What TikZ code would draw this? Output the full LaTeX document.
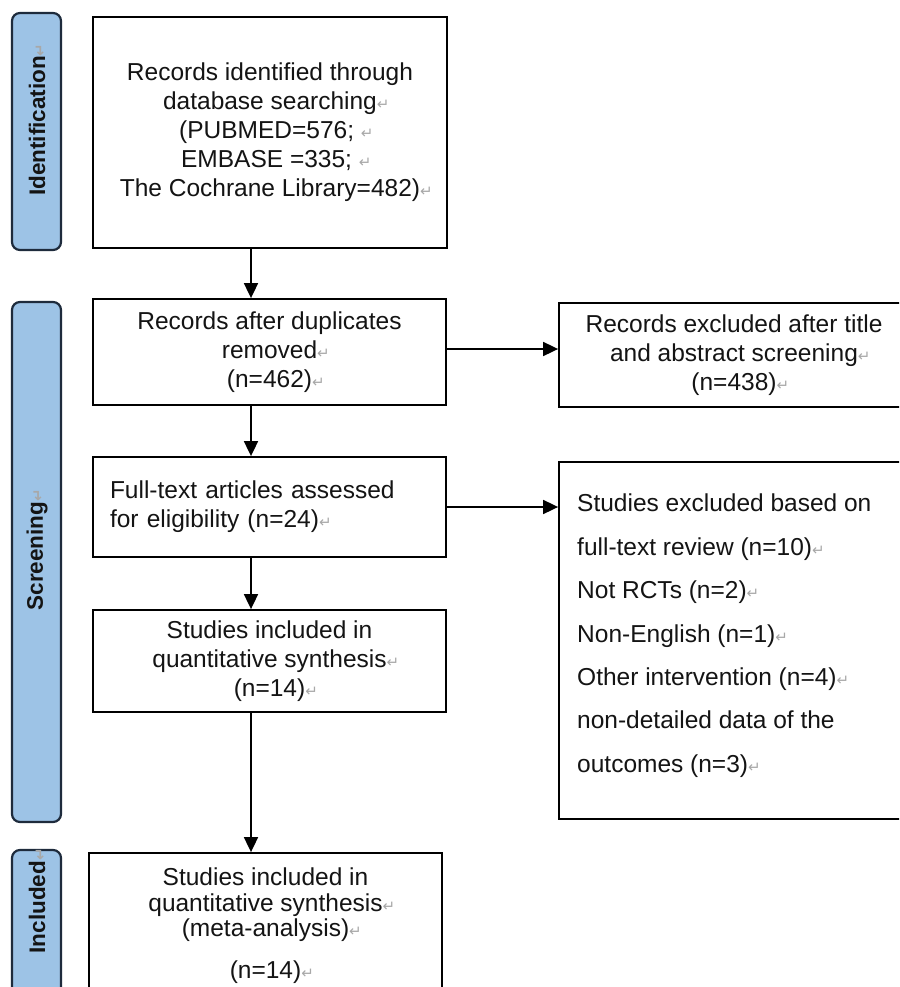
\documentclass[tikz,border=0pt]{standalone}
\usepackage{fontspec}
\setmainfont{Liberation Sans}
\newfontfamily\dvfont{DejaVu Sans}
\usetikzlibrary{arrows.meta}
\definecolor{barfill}{HTML}{9DC3E6}
\definecolor{bardraw}{HTML}{1E2B3C}
\definecolor{retgray}{HTML}{A8A8A8}
\definecolor{inkc}{HTML}{141414}
\newcommand\retmk{\rlap{\textcolor{retgray}{\dvfont\fontsize{15}{15}\selectfont ↵}}}
\tikzset{
  boxnode/.style={draw=black, line width=1.8pt, inner sep=0pt, fill=white,
    text=inkc, font=\fontsize{24.5}{29}\selectfont, align=center},
  barnode/.style={draw=bardraw, fill=barfill, line width=2.2pt, rounded corners=8pt,
    inner sep=0pt, minimum width=49pt},
  barlabel/.style={rotate=90, font=\bfseries\fontsize{22.5}{24}\selectfont, text=inkc, inner sep=0pt},
  arr/.style={line width=1.8pt, draw=black, -{Triangle[length=15pt,width=14pt]}},
}
\begin{document}
\begin{tikzpicture}[x=1pt,y=-1pt]
\useasboundingbox (0,0) rectangle (899,987);
\clip (0,0) rectangle (899,987);
\fill[white] (0,0) rectangle (899,987);

% phase bars
\node[barnode, minimum height=237pt] (barid) at (36.5,131.5) {};
\node[barlabel] (lblid) at (37,126) {Identification\retmk\hspace{10pt}};
\node[barnode, minimum height=520pt] (barscr) at (36.5,562) {};
\node[barlabel] (lblscr) at (37,556) {Screening\retmk\hspace{10pt}};
\node[barnode, minimum height=170pt] (barinc) at (36.5,935) {};
\node[barlabel] (lblinc) at (37,907) {Included\retmk\hspace{10pt}};

% left column boxes
\node[boxnode, minimum width=354pt, minimum height=231pt] (box1) at (270,132.5)
  {Records identified through\\ database searching\retmk\\ (PUBMED=576; \retmk\\ EMBASE =335; \retmk\\ The Cochrane Library=482)\retmk};
\node[boxnode, minimum width=353pt, minimum height=106pt] (box2) at (269.5,352)
  {Records after duplicates\\ removed\retmk\\ (n=462)\retmk};
\node[boxnode, text width=319pt, inner xsep=17pt, align=left, minimum height=100pt] (box3) at (269.5,507)
  {Full-text articles assessed\\ for eligibility (n=24)\retmk};
\node[boxnode, minimum width=353pt, minimum height=102pt] (box4) at (269.5,661)
  {Studies included in\\ quantitative synthesis\retmk\\ (n=14)\retmk};
\node[boxnode, minimum width=353pt, minimum height=167pt] (box5) at (265.5,936.5) {};
\node[text=inkc, font=\fontsize{24.5}{25.5}\selectfont, align=center, inner sep=0pt] (box5t) at (265.5,926)
  {Studies included in\\ quantitative synthesis\retmk\\ (meta-analysis)\retmk\\[16.5pt] (n=14)\retmk};

% right column boxes
\node[boxnode, minimum width=350pt, minimum height=104pt] (rb1) at (734,355)
  {Records excluded after title\\ and abstract screening\retmk\\ (n=438)\retmk};
\node[boxnode, minimum width=350pt, minimum height=357pt] (rb2) at (734,640.5) {};
\node[text=inkc, font=\fontsize{24.5}{43.4}\selectfont, align=left, inner sep=0pt, anchor=north west] (rb2t) at (577,494)
  {Studies excluded based on\\ full-text review (n=10)\retmk\\ Not RCTs (n=2)\retmk\\ Non-English (n=1)\retmk\\ Other intervention (n=4)\retmk\\ non-detailed data of the\\ outcomes (n=3)\retmk};

% connectors
\coordinate (ax) at (251,0);
\draw[arr] (box1.south -| ax) -- (box2.north -| ax);
\draw[arr] (box2.south -| ax) -- (box3.north -| ax);
\draw[arr] (box3.south -| ax) -- (box4.north -| ax);
\draw[arr] (box4.south -| ax) -- (box5.north -| ax);
\draw[arr] ([yshift=3pt]box2.east) -- ([yshift=3pt]box2.east -| rb1.west);
\draw[arr] (box3.east) -- (box3.east -| rb2.west);
\end{tikzpicture}
\end{document}
